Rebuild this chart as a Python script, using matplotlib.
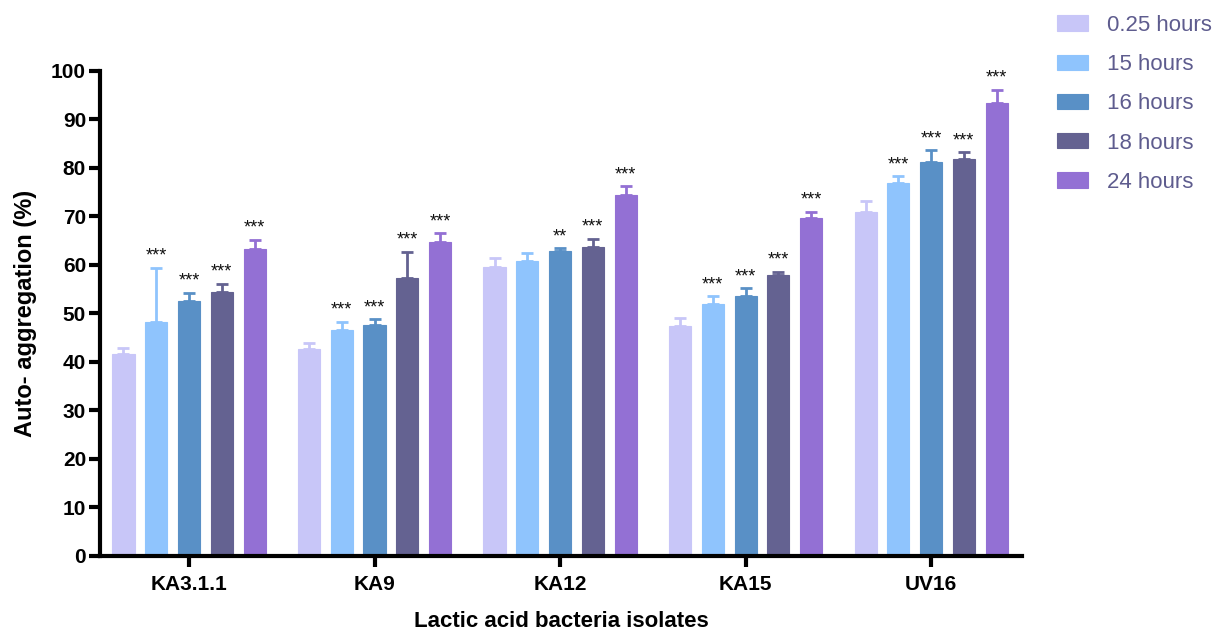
import numpy as np
import matplotlib
matplotlib.use("Agg")
import matplotlib.pyplot as plt

plt.rcParams["font.family"] = ["Liberation Sans", "DejaVu Sans"]

# Isolates and sampling times
isolates = ["KA3.1.1", "KA9", "KA12", "KA15", "UV16"]
times = ["0.25 hours", "15 hours", "16 hours", "18 hours", "24 hours"]

# Mean auto-aggregation (%) per time point, one list per time point (isolate order)
h025 = [41.7, 42.7, 59.6, 47.4, 70.9]
h15 = [48.3, 46.5, 60.8, 51.9, 76.9]
h16 = [52.5, 47.7, 62.8, 53.7, 81.3]
h18 = [54.5, 57.4, 63.7, 57.9, 81.9]
h24 = [63.2, 64.7, 74.5, 69.7, 93.4]

# Standard deviations
e025 = [1.2, 1.3, 1.8, 1.7, 2.2]
e15 = [11.1, 1.8, 1.7, 1.6, 1.4]
e16 = [1.8, 1.1, 0.7, 1.5, 2.4]
e18 = [1.6, 5.3, 1.7, 0.7, 1.4]
e24 = [2.0, 1.8, 1.7, 1.3, 2.7]

# Significance vs 0.25 h
s025 = ["", "", "", "", ""]
s15 = ["***", "***", "", "***", "***"]
s16 = ["***", "***", "**", "***", "***"]
s18 = ["***", "***", "***", "***", "***"]
s24 = ["***", "***", "***", "***", "***"]

means = [h025, h15, h16, h18, h24]
errs = [e025, e15, e16, e18, e24]
sigs = [s025, s15, s16, s18, s24]
colors = ["#C8C6F8", "#8FC4FD", "#5990C6", "#646291", "#9370D4"]

fig = plt.figure(figsize=(12.25, 6.32), dpi=100)
ax = fig.add_axes([0.0816, 0.1203, 0.7527, 0.7674])

x = np.arange(len(isolates))
pitch = 0.1766
width = 0.119
handles = []
for i, (m, e, s, c) in enumerate(zip(means, errs, sigs, colors)):
    xs = x + (i - 2) * pitch
    b = ax.bar(xs, m, width, color=c, edgecolor=c, linewidth=0.8,
               label=times[i], zorder=2)
    handles.append(b)
    ax.errorbar(xs, m, yerr=[np.zeros(len(e)), e], fmt="none", ecolor=c,
                elinewidth=2, capsize=4, capthick=2, zorder=3)
    for xi, mi, ei, si in zip(xs, m, e, s):
        if si:
            ax.text(xi, mi + ei + 0.6, si, ha="center", va="bottom",
                    fontsize=13, color="#111111")

ax.set_xlim(-0.48, 4.49)
ax.set_ylim(0, 100)
ax.set_yticks(np.arange(0, 101, 10))
ax.set_xticks(x)
ax.set_xticklabels(isolates, fontsize=15, fontweight="bold")
for lab in ax.get_yticklabels():
    lab.set_fontsize(15)
    lab.set_fontweight("bold")

for side in ["top", "right"]:
    ax.spines[side].set_visible(False)
for side in ["left", "bottom"]:
    ax.spines[side].set_linewidth(3)
ax.tick_params(axis="both", direction="out", length=8, width=3, pad=2)
ax.tick_params(axis="x", pad=6)

ax.set_ylabel("Auto- aggregation (%)", fontsize=17, fontweight="bold", labelpad=10)
ax.set_xlabel("Lactic acid bacteria isolates", fontsize=16, fontweight="bold",
              labelpad=12)

leg = fig.legend(handles=handles, labels=times, loc="upper left",
                 bbox_to_anchor=(0.854, 0.994), frameon=False, fontsize=16,
                 borderpad=0, handlelength=1.4, handleheight=0.68,
                 labelspacing=0.82, handletextpad=0.85)
for t in leg.get_texts():
    t.set_color("#5E5C8E")

fig.savefig("out.png", dpi=100)
